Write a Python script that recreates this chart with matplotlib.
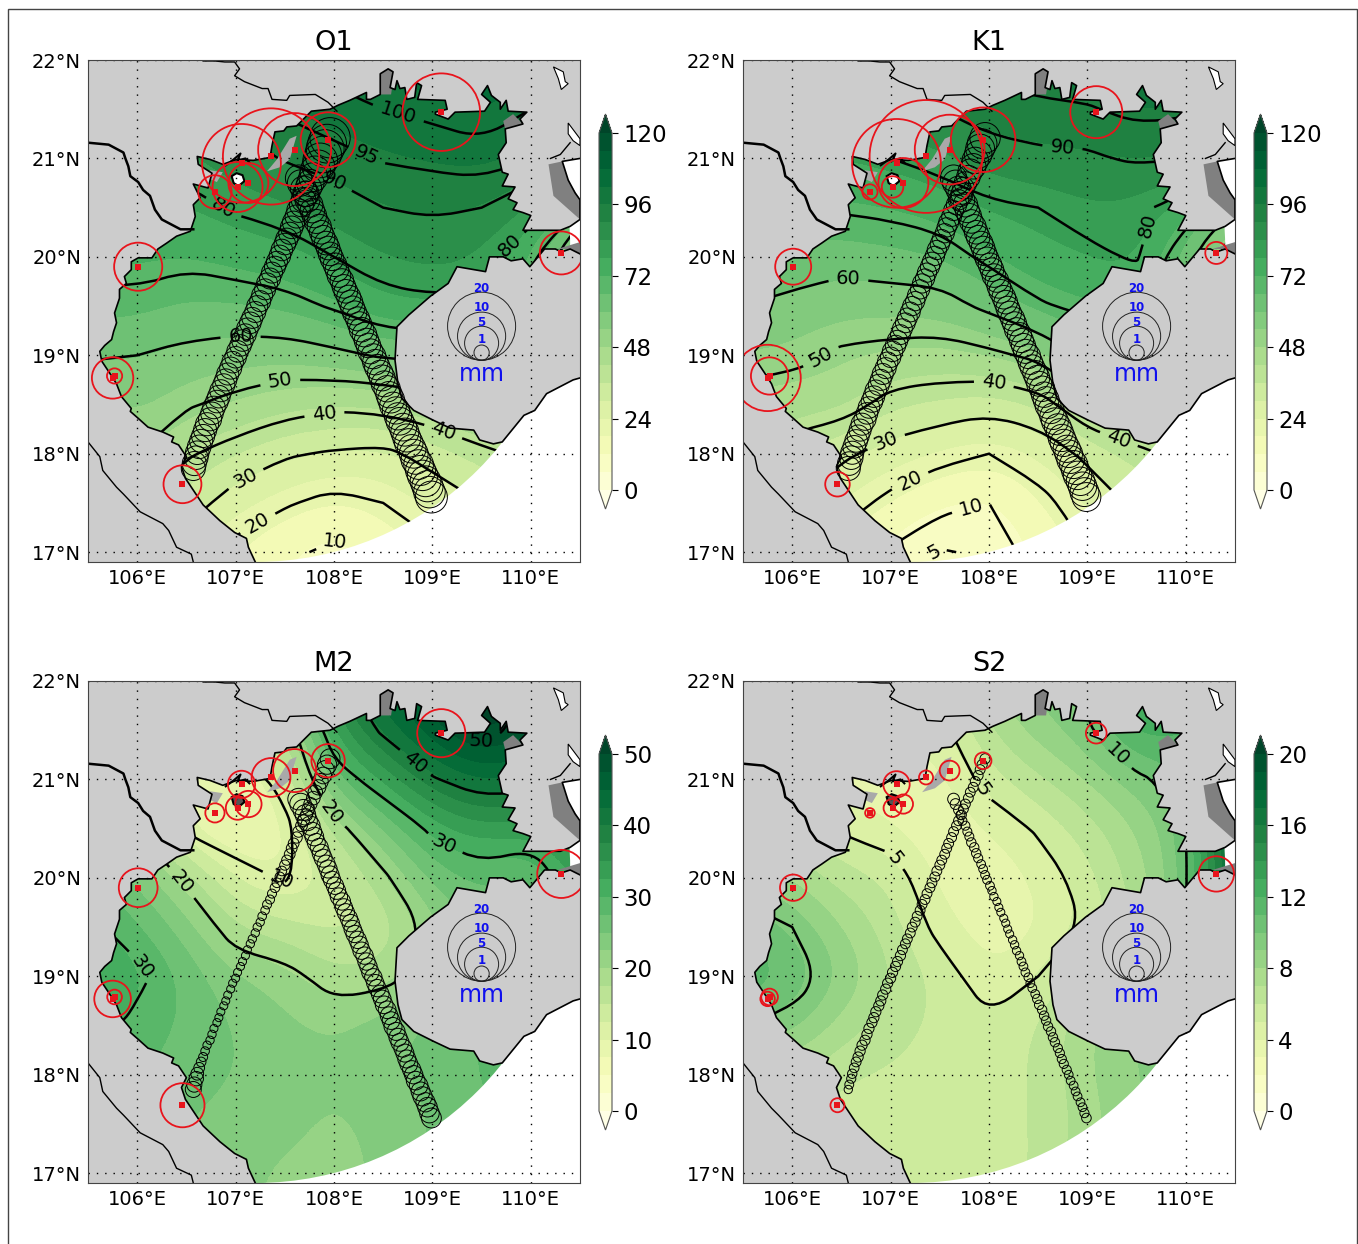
import numpy as np
import matplotlib
matplotlib.use("Agg")
import matplotlib.pyplot as plt
from matplotlib.colors import BoundaryNorm
from matplotlib.patches import Circle, Rectangle
from matplotlib.path import Path

W, H = 1358, 1244

# grid of the harmonic fields, one inner list per longitude, lat going north
grid_lon = [105.5, 106, 106.5, 107, 107.5, 108, 108.5, 109, 109.5, 110, 110.5]
grid_lat = [17, 17.5, 18, 18.5, 19, 19.5, 20, 20.5, 21, 21.5, 22]

o1_amp = [[28, 34, 44, 52, 61, 68, 73, 77, 80, 85, 89],
          [30, 40, 50, 56, 60, 68, 73, 77, 81, 86, 90],
          [25, 34, 41, 51, 58, 65, 72, 77.5, 83, 88, 92],
          [17, 26, 36, 47.5, 56.5, 65.5, 74, 81, 87, 92, 96],
          [12, 21, 31, 44, 56, 67, 76, 83, 90.5, 96, 100],
          [8, 17, 29, 42, 58, 71, 80, 86.5, 93, 98.5, 102],
          [14, 20, 28, 42.5, 61, 77, 84, 90, 95.5, 100, 103],
          [18, 25, 33, 46, 62, 78, 86, 91, 96.5, 101.5, 104],
          [25, 30, 38, 50, 64, 78, 84, 90, 98, 103, 105],
          [30, 35, 42, 50, 60, 68, 72, 85, 95, 100, 103],
          [34, 38, 44, 48, 52, 50, 42, 70, 90, 98, 102]]

k1_amp = [[25, 34, 42, 46, 54, 60, 66, 72, 78, 84, 88],
          [20, 30, 37, 44, 53, 58, 64, 70, 77, 83, 88],
          [16, 24, 31.5, 44, 48.5, 56, 63, 71, 78, 85, 90],
          [9, 17.5, 27, 37, 47, 56, 64.5, 72, 80, 88, 92],
          [4.5, 12, 23, 35, 46, 56.5, 66, 74.5, 83, 90, 94],
          [6, 10, 20, 33, 48, 62, 72, 78.5, 87, 93, 97],
          [13, 17.5, 24, 36, 52, 69, 76, 80, 88.5, 94, 98],
          [20, 24, 32, 47, 62, 72, 78, 83.5, 89, 94.5, 99],
          [26, 32, 38, 50, 62, 72, 81, 82, 91, 96.5, 100],
          [30, 36, 42, 48, 56, 62, 62, 76, 90, 96, 100],
          [34, 40, 45, 48, 50, 45, 40, 60, 80, 92, 98]]

m2_amp = [[23, 25, 28, 32, 34, 31, 28, 24, 22, 25, 28],
          [24, 26, 28, 29, 31, 28, 25, 20, 18, 22, 26],
          [24, 25, 26, 27, 27, 24, 19, 9, 8, 16, 24],
          [23, 24, 25, 25, 23, 17.5, 12, 7, 6, 14, 24],
          [22, 23, 24, 23, 21.5, 16, 9.5, 8.5, 12, 16, 26],
          [22, 22, 22.5, 22.5, 18, 14, 13, 18, 27, 34, 38],
          [22.5, 23, 24, 24, 18.5, 15, 19, 25, 33, 41, 45],
          [26, 25, 26, 26, 22, 21.5, 26, 31, 39.5, 47, 50],
          [28, 27, 28, 28, 26, 26, 28, 34, 43, 52, 54],
          [30, 29, 28, 27, 27, 27, 26, 33, 42, 48, 50],
          [30, 30, 30, 30, 30, 30, 34, 38, 42, 46, 48]]

s2_amp = [[6, 6, 7, 10, 12, 11, 9, 6, 4, 5, 6],
          [6, 6, 7, 9.5, 11, 10, 8, 6, 4, 5, 6],
          [5.5, 5.5, 6, 7.5, 9, 8, 6.5, 4.8, 3.5, 4, 5],
          [5.5, 5.5, 5.8, 6.5, 7, 6.5, 6, 4, 3.3, 4, 5],
          [5.5, 5.5, 5.5, 5.7, 5.8, 4.5, 3.5, 3, 3.5, 4.5, 5.5],
          [5.5, 5.6, 5.6, 5.3, 4, 3.2, 3, 4, 5.6, 7, 8],
          [6, 6, 6, 6, 5, 3.8, 4.2, 5.2, 6.8, 8.5, 9.5],
          [8, 7.5, 8, 8, 7, 5.2, 5.6, 6.5, 8, 9.7, 10.5],
          [9, 9, 9, 9, 8, 7, 7.5, 8, 9.5, 13, 14],
          [9, 9, 10, 10, 10, 10, 9.8, 10, 11, 12, 12],
          [9, 9, 10, 10, 11, 16, 19, 20, 14, 12, 12]]

# tide gauges
st_lon = [106.01, 105.75, 105.77, 106.46, 106.79, 107.02, 107.13, 107.06, 107.36, 107.60, 107.94, 109.09, 110.31]
st_lat = [19.90, 18.77, 18.79, 17.69, 20.66, 20.71, 20.75, 20.95, 21.02, 21.09, 21.19, 21.47, 20.04]
o1_st_err = [10, 7.4, 1, 6.2, 4.8, 10.8, 6.9, 26.8, 40, 23, 13, 26, 8]
k1_st_err = [5.6, 19, 6, 2.6, 1, 2, 10.8, 34, 55, 21, 18, 11.7, 2.1]
m2_st_err = [6.5, 5.8, 0.93, 8.4, 1.6, 2.4, 3, 3.2, 6.5, 8, 4.8, 10, 10]
s2_st_err = [3, 0.9, 1.2, 0.85, 0.4, 1.4, 1.6, 3, 0.85, 1.7, 1.2, 1.85, 5.4]

# altimeter tracks
t1_lon = [107.96, 107.93, 107.91, 107.89, 107.86, 107.84, 107.81, 107.79, 107.76, 107.74,
          107.72, 107.69, 107.67, 107.64, 107.62, 107.59, 107.57, 107.55, 107.52, 107.50,
          107.47, 107.45, 107.42, 107.40, 107.37, 107.35, 107.32, 107.30, 107.27, 107.25,
          107.22, 107.20, 107.17, 107.15, 107.12, 107.10, 107.07, 107.05, 107.02, 107.00,
          106.97, 106.95, 106.92, 106.90, 106.88, 106.85, 106.83, 106.81, 106.78, 106.76,
          106.74, 106.71, 106.69, 106.67, 106.65, 106.63, 106.61, 106.60, 106.58, 106.57]
t1_lat = [21.21, 21.15, 21.10, 21.04, 20.98, 20.92, 20.87, 20.81, 20.75, 20.70,
          20.64, 20.58, 20.53, 20.47, 20.41, 20.35, 20.30, 20.24, 20.18, 20.13,
          20.07, 20.01, 19.95, 19.90, 19.84, 19.78, 19.73, 19.67, 19.61, 19.55,
          19.50, 19.44, 19.38, 19.33, 19.27, 19.21, 19.15, 19.10, 19.04, 18.98,
          18.93, 18.87, 18.81, 18.75, 18.70, 18.64, 18.58, 18.53, 18.47, 18.41,
          18.35, 18.30, 18.24, 18.18, 18.13, 18.07, 18.01, 17.96, 17.90, 17.85]
t2_lon = [107.64, 107.66, 107.69, 107.71, 107.73, 107.76, 107.78, 107.80, 107.82, 107.85,
          107.87, 107.89, 107.92, 107.94, 107.96, 107.98, 108.01, 108.03, 108.05, 108.08,
          108.10, 108.12, 108.15, 108.17, 108.19, 108.21, 108.24, 108.26, 108.28, 108.31,
          108.33, 108.35, 108.37, 108.40, 108.42, 108.44, 108.47, 108.49, 108.51, 108.54,
          108.56, 108.58, 108.60, 108.63, 108.65, 108.67, 108.70, 108.72, 108.74, 108.76,
          108.79, 108.81, 108.83, 108.86, 108.88, 108.90, 108.93, 108.95, 108.97, 108.99]
t2_lat = [20.80, 20.75, 20.69, 20.64, 20.58, 20.53, 20.47, 20.42, 20.36, 20.31,
          20.25, 20.20, 20.14, 20.09, 20.03, 19.98, 19.92, 19.87, 19.81, 19.76,
          19.70, 19.65, 19.59, 19.54, 19.48, 19.43, 19.37, 19.32, 19.26, 19.21,
          19.15, 19.10, 19.04, 18.99, 18.93, 18.88, 18.82, 18.77, 18.71, 18.66,
          18.60, 18.55, 18.49, 18.44, 18.38, 18.33, 18.27, 18.22, 18.16, 18.11,
          18.05, 18.00, 17.94, 17.89, 17.83, 17.78, 17.72, 17.67, 17.61, 17.56]

o1_t1_err = [7.0, 6.5, 6.2, 5.8, 5.2, 4.6, 4.0, 3.6, 3.2, 3.0,
             2.8, 2.6, 2.5, 2.4, 2.3, 2.2, 2.2, 2.1, 2.1, 2.0,
             2.0, 2.0, 1.9, 1.9, 1.9, 1.9, 1.9, 1.9, 1.9, 1.9,
             1.9, 1.9, 1.9, 2.0, 2.0, 2.0, 2.0, 2.0, 2.0, 2.0,
             2.0, 2.1, 2.1, 2.1, 2.1, 2.1, 2.2, 2.2, 2.2, 2.2,
             2.3, 2.3, 2.3, 2.3, 2.3, 2.4, 2.4, 2.4, 2.5, 2.5]
o1_t2_err = [3.0, 3.0, 2.9, 2.8, 2.7, 2.7, 2.6, 2.6, 2.5, 2.5,
             2.4, 2.4, 2.4, 2.4, 2.4, 2.4, 2.4, 2.4, 2.4, 2.4,
             2.4, 2.4, 2.5, 2.5, 2.5, 2.5, 2.5, 2.5, 2.6, 2.6,
             2.6, 2.6, 2.7, 2.7, 2.8, 2.8, 2.8, 2.9, 2.9, 3.0,
             3.0, 3.1, 3.1, 3.2, 3.2, 3.3, 3.3, 3.4, 3.4, 3.5,
             3.5, 3.6, 3.7, 3.8, 3.9, 4.0, 4.1, 4.2, 4.3, 4.4]
k1_t1_err = [4.0, 3.8, 3.6, 3.3, 3.0, 2.8, 2.6, 2.4, 2.2, 2.0,
             1.9, 1.8, 1.8, 1.7, 1.7, 1.7, 1.6, 1.6, 1.6, 1.6,
             1.6, 1.6, 1.6, 1.6, 1.6, 1.6, 1.6, 1.6, 1.6, 1.6,
             1.6, 1.7, 1.7, 1.7, 1.7, 1.7, 1.8, 1.8, 1.8, 1.8,
             1.8, 1.9, 1.9, 1.9, 1.9, 2.0, 2.0, 2.0, 2.0, 2.0,
             2.1, 2.1, 2.1, 2.1, 2.2, 2.2, 2.3, 2.4, 2.4, 2.5]
k1_t2_err = [3.0, 2.9, 2.8, 2.7, 2.6, 2.6, 2.5, 2.5, 2.4, 2.4,
             2.4, 2.4, 2.4, 2.4, 2.4, 2.4, 2.4, 2.4, 2.4, 2.4,
             2.4, 2.4, 2.4, 2.4, 2.4, 2.4, 2.5, 2.5, 2.5, 2.5,
             2.5, 2.5, 2.5, 2.6, 2.6, 2.6, 2.7, 2.7, 2.7, 2.8,
             2.8, 2.9, 2.9, 3.0, 3.0, 3.1, 3.1, 3.1, 3.2, 3.2,
             3.2, 3.3, 3.3, 3.4, 3.4, 3.5, 3.5, 3.5, 3.6, 3.6]
m2_t1_err = [1.7, 1.6, 1.4, 1.2, 1.1, 1.0, 0.9, 0.8, 0.75, 0.7,
             0.65, 0.6, 0.6, 0.55, 0.55, 0.5, 0.5, 0.5, 0.45, 0.45,
             0.4, 0.4, 0.4, 0.4, 0.35, 0.35, 0.35, 0.32, 0.32, 0.3,
             0.3, 0.3, 0.3, 0.3, 0.28, 0.28, 0.28, 0.28, 0.28, 0.28,
             0.28, 0.28, 0.28, 0.28, 0.28, 0.28, 0.28, 0.28, 0.28, 0.3,
             0.3, 0.3, 0.32, 0.35, 0.4, 0.5, 0.7, 0.9, 1.0, 1.1]
m2_t2_err = [2.0, 2.0, 1.9, 1.8, 1.7, 1.6, 1.5, 1.5, 1.4, 1.4,
             1.4, 1.4, 1.4, 1.4, 1.4, 1.3, 1.3, 1.3, 1.3, 1.3,
             1.3, 1.3, 1.3, 1.3, 1.3, 1.3, 1.3, 1.3, 1.3, 1.3,
             1.3, 1.3, 1.3, 1.3, 1.3, 1.3, 1.35, 1.35, 1.35, 1.35,
             1.35, 1.35, 1.4, 1.4, 1.4, 1.4, 1.4, 1.4, 1.4, 1.4,
             1.45, 1.45, 1.5, 1.5, 1.55, 1.6, 1.6, 1.65, 1.65, 1.7]
s2_t1_err = [0.45, 0.45, 0.42, 0.42, 0.42, 0.42, 0.42, 0.42, 0.42, 0.42,
             0.42, 0.42, 0.42, 0.42, 0.42, 0.42, 0.42, 0.42, 0.42, 0.42,
             0.42, 0.42, 0.42, 0.42, 0.42, 0.42, 0.42, 0.42, 0.42, 0.42,
             0.42, 0.42, 0.42, 0.42, 0.42, 0.45, 0.45, 0.45, 0.45, 0.45,
             0.45, 0.45, 0.45, 0.45, 0.45, 0.45, 0.45, 0.45, 0.45, 0.45,
             0.45, 0.45, 0.45, 0.45, 0.42, 0.4, 0.38, 0.36, 0.34, 0.3]
s2_t2_err = [0.6, 0.5, 0.42, 0.35, 0.35, 0.35, 0.35, 0.35, 0.38, 0.38,
             0.38, 0.36, 0.33, 0.33, 0.33, 0.33, 0.33, 0.3, 0.3, 0.28,
             0.28, 0.28, 0.28, 0.28, 0.28, 0.28, 0.3, 0.3, 0.3, 0.3,
             0.33, 0.33, 0.33, 0.33, 0.33, 0.33, 0.33, 0.38, 0.38, 0.38,
             0.38, 0.38, 0.38, 0.38, 0.38, 0.38, 0.36, 0.36, 0.36, 0.36,
             0.36, 0.33, 0.33, 0.33, 0.33, 0.33, 0.33, 0.33, 0.36, 0.4]

# coastlines and borders
coast_lon = [107.20, 107.13, 107.11, 106.99, 106.84, 106.67, 106.57, 106.49, 106.45, 106.50,
             106.42, 106.35, 106.37, 106.26, 106.11, 106.01, 105.93, 105.94, 105.84, 105.79,
             105.72, 105.64, 105.62, 105.67, 105.74, 105.76, 105.79, 105.77, 105.82, 105.82,
             105.89, 105.87, 105.94, 105.94, 106.01, 106.15, 106.21, 106.30, 106.40, 106.54,
             106.59, 106.57, 106.64, 106.57, 106.72, 106.76, 106.62, 106.61, 106.74, 106.87,
             107.01, 107.18, 107.35, 107.37, 107.40, 107.49, 107.52, 107.62, 107.69, 107.77,
             107.96, 108.04, 108.16, 108.33, 108.33, 108.37, 108.47, 108.47, 108.55, 108.60,
             108.57, 108.62, 108.64, 108.67, 108.72, 108.74, 108.82, 108.84, 108.89, 108.85,
             109.13, 109.15, 109.03, 109.03, 109.16, 109.23, 109.53, 109.59, 109.50, 109.56,
             109.60, 109.69, 109.69, 109.75, 109.77, 109.96, 109.89, 109.92, 109.74, 109.75,
             109.67, 109.71, 109.77, 109.71, 109.84, 109.77, 109.86, 109.82, 109.92, 110.00,
             109.92, 110.13, 110.30, 110.40, 110.50, 110.50, 110.45, 110.38, 110.32, 110.50]
coast_lat = [16.90, 17.05, 17.14, 17.20, 17.32, 17.48, 17.63, 17.75, 17.87, 17.97,
             18.09, 18.12, 18.17, 18.22, 18.27, 18.36, 18.43, 18.46, 18.58, 18.71,
             18.82, 18.94, 19.04, 19.10, 19.16, 19.24, 19.33, 19.43, 19.58, 19.67,
             19.73, 19.80, 19.87, 19.95, 19.99, 19.99, 20.08, 20.14, 20.21, 20.26,
             20.41, 20.53, 20.60, 20.74, 20.70, 20.85, 20.94, 21.02, 20.99, 20.94,
             20.99, 20.98, 21.01, 21.13, 21.27, 21.28, 21.32, 21.33, 21.40, 21.48,
             21.50, 21.54, 21.59, 21.67, 21.60, 21.60, 21.65, 21.86, 21.91, 21.88,
             21.72, 21.70, 21.79, 21.71, 21.72, 21.60, 21.62, 21.77, 21.74, 21.60,
             21.59, 21.50, 21.47, 21.45, 21.40, 21.47, 21.48, 21.57, 21.65, 21.74,
             21.64, 21.57, 21.50, 21.59, 21.48, 21.47, 21.40, 21.35, 21.30, 21.16,
             21.04, 20.86, 20.84, 20.72, 20.71, 20.59, 20.55, 20.48, 20.45, 20.42,
             20.27, 20.27, 20.27, 20.31, 20.38, 20.58, 20.65, 20.78, 20.97, 21.00]
hainan_lon = [110.50, 110.40, 110.31, 110.25, 110.14, 110.04, 109.99, 109.92, 109.80, 109.72,
              109.58, 109.54, 109.25, 109.16, 108.98, 108.76, 108.64, 108.62, 108.65, 108.69,
              108.81, 109.01, 109.18, 109.42, 109.48, 109.62, 109.71, 109.93, 110.04, 110.16,
              110.43, 110.50]
hainan_lat = [20.03, 20.08, 20.05, 20.08, 20.08, 19.96, 19.90, 19.98, 19.96, 20.00,
              20.00, 19.85, 19.90, 19.73, 19.60, 19.41, 19.29, 18.95, 18.71, 18.56,
              18.44, 18.34, 18.26, 18.24, 18.14, 18.10, 18.12, 18.39, 18.44, 18.61,
              18.75, 18.77]
border1_lon = [105.50, 105.71, 105.86, 105.88, 105.91, 105.93, 106.01, 106.06, 106.13, 106.18, 106.25, 106.44, 106.57]
border1_lat = [21.16, 21.14, 21.06, 21.00, 20.92, 20.82, 20.76, 20.68, 20.62, 20.48, 20.38, 20.28, 20.28]
border2_lon = [106.67, 106.79, 106.89, 106.99, 107.04, 106.99, 107.09, 107.27, 107.33, 107.37, 107.52, 107.55, 107.81, 107.94, 108.03]
border2_lat = [21.99, 21.99, 21.98, 21.98, 21.91, 21.84, 21.78, 21.71, 21.71, 21.60, 21.59, 21.64, 21.65, 21.57, 21.48]
border3_lon = [105.50, 105.62, 105.65, 105.79, 105.86, 106.03, 106.26, 106.32, 106.40, 106.55, 106.57]
border3_lat = [18.12, 17.97, 17.83, 17.66, 17.59, 17.41, 17.29, 17.22, 17.05, 16.98, 16.90]
isle_lon = [106.90, 106.98, 107.05, 107.02, 107.10, 107.14]
isle_lat = [20.93, 20.99, 21.05, 20.98, 21.00, 20.96]

# bits with no model data
dark_under = [([109.50, 109.70, 109.93, 109.71, 109.62], [18.20, 18.30, 18.39, 18.12, 18.10]),
              ([108.45, 108.62, 108.58, 108.45], [21.92, 21.92, 21.65, 21.65]),
              ([109.74, 109.92, 109.82, 109.72], [21.30, 21.35, 21.45, 21.38])]
dark_over = [([110.18, 110.32, 110.38, 110.50, 110.50, 110.23], [20.94, 20.97, 20.78, 20.58, 20.38, 20.62]),
             ([110.27, 110.50, 110.50, 110.40], [20.08, 20.15, 20.03, 20.08])]
pale_polys = [([107.55, 107.62, 107.55, 107.45, 107.32, 107.42], [21.20, 21.23, 20.99, 20.91, 20.87, 20.99]),
              ([106.74, 106.87, 106.81, 106.74], [20.88, 20.86, 20.76, 20.79])]
white_polys = [([110.23, 110.33, 110.35, 110.38, 110.31, 110.28], [21.93, 21.88, 21.78, 21.76, 21.70, 21.81]),
               ([110.38, 110.44, 110.50, 110.50, 110.43, 110.38], [21.36, 21.28, 21.20, 21.13, 21.18, 21.25])]
catba_lon = [106.96, 107.01, 107.07, 107.09, 107.03, 106.98]
catba_lat = [20.82, 20.85, 20.83, 20.77, 20.72, 20.75]
inlet_lon = [110.40, 110.30, 110.20]
inlet_lat = [21.16, 21.04, 21.00]

lon_ticks = [106, 107, 108, 109, 110]
lat_ticks = [17, 18, 19, 20, 21, 22]
lon_labels = ["106°E", "107°E", "108°E", "109°E", "110°E"]
lat_labels = ["17°N", "18°N", "19°N", "20°N", "21°N", "22°N"]
scale_mm = [20, 10, 5, 1]
scale_txt_lat = [19.68, 19.49, 19.33, 19.16]

titles = ["O1", "K1", "M2", "S2"]
amps = [o1_amp, k1_amp, m2_amp, s2_amp]
st_errs = [o1_st_err, k1_st_err, m2_st_err, s2_st_err]
t1_errs = [o1_t1_err, k1_t1_err, m2_t1_err, s2_t1_err]
t2_errs = [o1_t2_err, k1_t2_err, m2_t2_err, s2_t2_err]
vmaxs = [120, 120, 50, 20]
cb_ticks = [[0, 24, 48, 72, 96, 120], [0, 24, 48, 72, 96, 120], [0, 10, 20, 30, 40, 50], [0, 4, 8, 12, 16, 20]]
line_levels = [[10, 20, 30, 40, 50, 60, 70, 80, 90, 95, 100],
               [5, 10, 20, 30, 40, 50, 60, 70, 80, 90, 95],
               [10, 20, 30, 40, 50],
               [5, 10]]
label_pos = [[(108.0, 17.1), (107.25, 17.25), (107.1, 17.75), (107.9, 18.42), (107.45, 18.75), (107.05, 19.2),
              (109.1, 18.2), (109.7, 20.2), (108.65, 21.45), (108.35, 21.07), (108.02, 20.8), (106.85, 20.45)],
             [(108.75, 21.15), (109.5, 20.35), (106.57, 19.78), (106.3, 18.97), (108.05, 18.72), (109.32, 18.15),
              (106.95, 18.13), (107.2, 17.72), (107.8, 17.53), (107.4, 17.0)],
             [(109.5, 21.3), (108.85, 21.2), (109.15, 20.4), (107.95, 20.65), (106.45, 19.95), (107.47, 20.0), (105.98, 19.05)],
             [(107.05, 20.2), (107.92, 20.88), (109.3, 21.25)]]
ax_left = [88, 743, 88, 743]
ax_top = [60, 60, 681, 681]


def px_rect(x0, y0, x1, y1):
    return [x0 / W, 1 - y1 / H, (x1 - x0) / W, (y1 - y0) / H]


def round_corners(path):
    # same vertices, drawn as quadratic curves so contour lines have no kinks
    if len(path.vertices) == 0:
        return path
    verts, codes = [], []
    starts = np.where(path.codes == Path.MOVETO)[0].tolist() + [len(path.vertices)]
    for a, b in zip(starts[:-1], starts[1:]):
        v = path.vertices[a:b].copy()
        if path.codes[b - 1] == Path.CLOSEPOLY:
            v[-1] = v[0]
        verts.append(v[0])
        codes.append(Path.MOVETO)
        for j in range(1, len(v) - 1):
            end = v[-1] if j == len(v) - 2 else (v[j] + v[j + 1]) / 2
            verts += [v[j], end]
            codes += [Path.CURVE3, Path.CURVE3]
        if len(v) == 2:
            verts.append(v[1])
            codes.append(Path.LINETO)
    return Path(np.array(verts), codes)


fig = plt.figure(figsize=(W / 100, H / 100), dpi=100)
fig.add_artist(Rectangle((8 / W, -0.02), (1357 - 8) / W, 1.02 - 9 / H, transform=fig.transFigure,
                         fill=False, ec="#444444", lw=1.0))

for i in range(4):
    ax = fig.add_axes(px_rect(ax_left[i], ax_top[i], ax_left[i] + 492, ax_top[i] + 502))
    z = np.array(amps[i]).T

    levels = np.linspace(0, vmaxs[i], 21)
    norm = BoundaryNorm(levels, 256, extend="both")
    im = ax.imshow(z, extent=[105.25, 110.75, 16.75, 22.25], origin="lower", aspect="auto", cmap="YlGn", norm=norm,
                   interpolation="bicubic", interpolation_stage="data", zorder=1)
    im.set_clip_path(Circle((107.2, 20.1), 3.2, transform=ax.transData))
    cl = ax.contour(grid_lon, grid_lat, z, levels=line_levels[i], colors="k", linewidths=1.8, zorder=1.5)
    cl.set_clip_path(Circle((107.2, 20.1), 3.2, transform=ax.transData))

    for px, py in pale_polys:
        ax.fill(px, py, color="#a9a9a9", lw=0, zorder=1.7)
    for px, py in dark_under:
        ax.fill(px, py, color="#808080", lw=0, zorder=1.7)

    # land on top of the field
    ax.fill(coast_lon + [110.5, 105.5, 105.5], coast_lat + [22.0, 22.0, 16.9], color="#cccccc", lw=0, zorder=2)
    ax.fill(hainan_lon, hainan_lat, color="#cccccc", lw=0, zorder=2)
    for px, py in dark_over:
        ax.fill(px, py, color="#808080", lw=0, zorder=2.05)
    for px, py in white_polys:
        ax.fill(px, py, fc="white", ec="k", lw=0.8, zorder=2.1)
    ax.fill(catba_lon, catba_lat, fc="white" if i < 2 else "#555555", ec="k", lw=1.5, zorder=2.1)
    ax.plot(coast_lon, coast_lat, color="k", lw=1.2, zorder=2.2)
    ax.plot(hainan_lon, hainan_lat, color="k", lw=1.2, zorder=2.2)
    ax.plot(inlet_lon, inlet_lat, color="k", lw=1.0, zorder=2.2)
    ax.plot(isle_lon, isle_lat, color="k", lw=1.5, zorder=2.2)
    ax.plot(border1_lon, border1_lat, color="k", lw=1.8, zorder=2.2)
    ax.plot(border2_lon, border2_lat, color="k", lw=1.0, zorder=2.2)
    ax.plot(border3_lon, border3_lat, color="k", lw=1.0, zorder=2.2)

    labels = ax.clabel(cl, levels=line_levels[i], manual=label_pos[i], fmt="%d", fontsize=14, inline_spacing=6)
    for t in labels:
        t.set_zorder(2.4)
    paths = cl.get_paths()
    for k in range(len(paths)):
        paths[k] = round_corners(paths[k])

    # circle area goes with the error in mm
    ax.scatter(t1_lon, t1_lat, s=120 * np.array(t1_errs[i]), facecolors="none", edgecolors="k", linewidths=0.7, zorder=3)
    ax.scatter(t2_lon, t2_lat, s=120 * np.array(t2_errs[i]), facecolors="none", edgecolors="k", linewidths=0.7, zorder=3)
    ax.scatter(st_lon, st_lat, s=120 * np.array(st_errs[i]), facecolors="none", edgecolors="#e8141c", linewidths=1.3, zorder=4)
    ax.scatter(st_lon, st_lat, s=16, marker="s", color="#e8141c", linewidths=0, zorder=4.1)

    # size key
    for mm, ty in zip(scale_mm, scale_txt_lat):
        r = 7.6 * np.sqrt(mm) / 98.4
        ax.scatter([109.5], [18.95 + r], s=120 * mm, facecolors="none", edgecolors="#222222", linewidths=0.7, zorder=3)
        ax.text(109.5, ty, str(mm), color="#1010ee", fontsize=8.5, fontweight="bold", ha="center", va="center", zorder=5)
    ax.text(109.5, 18.81, "mm", color="#1010ee", fontsize=17, ha="center", va="center", zorder=5)

    ax.set_xlim(105.5, 110.5)
    ax.set_ylim(16.9, 22.0)
    ax.set_xticks(lon_ticks)
    ax.set_xticklabels(lon_labels, fontsize=14)
    ax.set_yticks(lat_ticks)
    ax.set_yticklabels(lat_labels, fontsize=14)
    ax.tick_params(length=0, pad=5)
    ax.set_axisbelow(False)
    ax.grid(True, color="k", linestyle=(0, (1, 5)), linewidth=1.0)
    ax.set_title(titles[i], fontsize=19.5, pad=7)
    for sp in ax.spines.values():
        sp.set_color("#444444")
        sp.set_zorder(6)

    cax = fig.add_axes(px_rect(ax_left[i] + 511, ax_top[i] + 54, ax_left[i] + 524, ax_top[i] + 449))
    cb = fig.colorbar(im, cax=cax, extendfrac=19 / 357, ticks=cb_ticks[i], drawedges=False)
    cb.ax.tick_params(labelsize=16.5, length=4, width=0.8, pad=4)
    cb.ax.minorticks_off()
    cb.outline.set_edgecolor("#555555")

fig.savefig("out.png", dpi=100)
